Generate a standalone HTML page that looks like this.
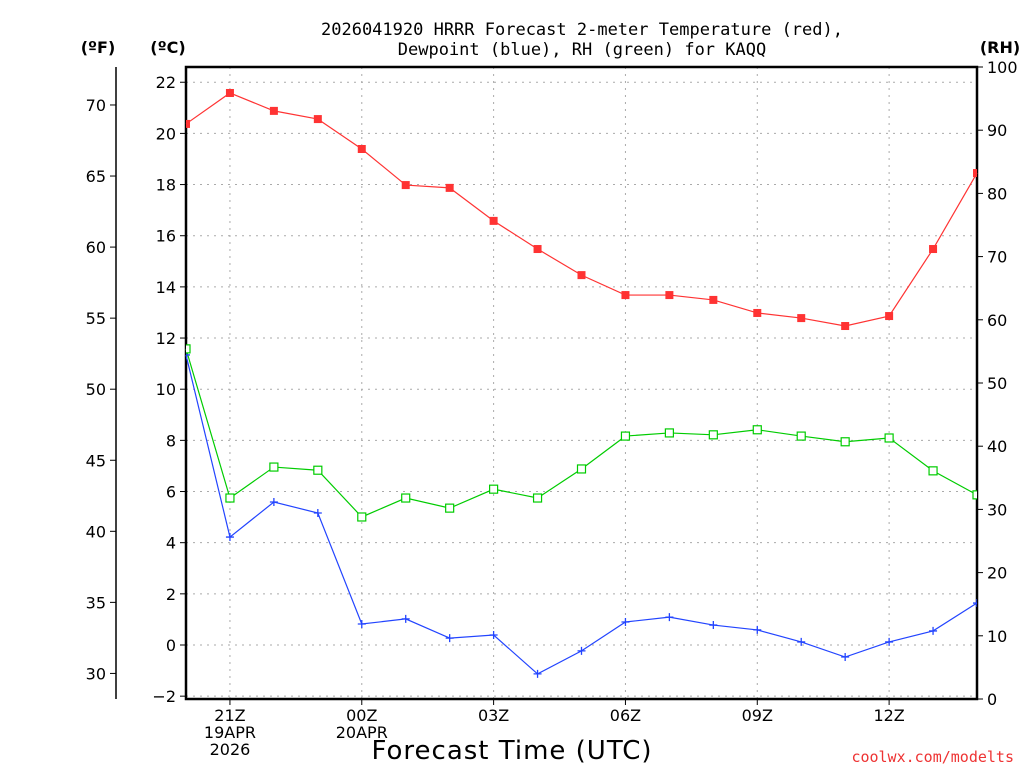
<!DOCTYPE html>
<html><head><meta charset="utf-8"><style>
body{margin:0;background:#fff;width:1024px;height:768px;overflow:hidden}
svg{display:block;font-family:"DejaVu Sans","Liberation Sans",sans-serif}
</style></head><body>
<svg id="chart" width="1024" height="768" viewBox="0 0 1024 768">
<text x="582" y="35" text-anchor="middle" font-size="17" font-family="DejaVu Sans Mono,Liberation Mono,monospace">2026041920 HRRR Forecast 2-meter Temperature (red),</text>
<text x="582" y="55" text-anchor="middle" font-size="17" font-family="DejaVu Sans Mono,Liberation Mono,monospace">Dewpoint (blue), RH (green) for KAQQ</text>
<text x="98" y="53" text-anchor="middle" font-size="16" font-weight="bold">(ºF)</text>
<text x="168" y="53" text-anchor="middle" font-size="16" font-weight="bold">(ºC)</text>
<text x="1000" y="53" text-anchor="middle" font-size="16" font-weight="bold">(RH)</text>
<text x="512" y="759" text-anchor="middle" font-size="26" letter-spacing="1">Forecast Time (UTC)</text>
<text x="1014" y="762" text-anchor="end" font-size="15" fill="#e33" font-family="DejaVu Sans Mono,Liberation Mono,monospace">coolwx.com/modelts</text>
<g id="grid"></g><g id="axes"></g><g id="series"></g>
</svg>
<script>
const hours=[0,1,2,3,4,5,6,7,8,9,10,11,12,13,14,15,16,17,18];
const tempC=[20.37,21.58,20.88,20.56,19.39,17.98,17.87,16.58,15.48,14.46,13.68,13.68,13.49,12.98,12.78,12.47,12.86,15.48,18.45];
const dewC=[11.34,4.22,5.59,5.16,0.82,1.02,0.27,0.39,-1.13,-0.23,0.9,1.09,0.78,0.59,0.12,-0.47,0.12,0.55,1.64];
const rh=[55.4,31.8,36.7,36.2,28.8,31.8,30.2,33.2,31.8,36.4,41.6,42.1,41.8,42.6,41.6,40.7,41.3,36.1,32.3];
const cTicks=[-2,0,2,4,6,8,10,12,14,16,18,20,22];
const fTicks=[30,35,40,45,50,55,60,65,70];
const rhTicks=[0,10,20,30,40,50,60,70,80,90,100];
const xTickHours=[1,4,7,10,13,16];
const xTickLabels=[["21Z","19APR","2026"],["00Z","20APR"],["03Z"],["06Z"],["09Z"],["12Z"]];
const L=186,R=977,T=67,B=699;
const x=h=>L+h*(R-L)/18;
const yC=c=>645-c*25.58;
const yF=f=>yC((f-32)/1.8);
const yR=r=>B-r*(B-T)/100;
const NS="http://www.w3.org/2000/svg";
function mk(tag,par,at){const e=document.createElementNS(NS,tag);for(const k in at)e.setAttribute(k,at[k]);document.getElementById(par).appendChild(e);return e;}
cTicks.forEach(c=>{
 const g=mk('line','grid',{x1:L,x2:R,y1:yC(c),y2:yC(c),stroke:'#aaa','stroke-dasharray':'2,5'});
 
 
 const t=mk('line','axes',{x1:L-6,x2:L,y1:yC(c),y2:yC(c),stroke:'#000'});
 
 
 const tx=mk('text','axes',{x:L-10,y:yC(c)+6,'text-anchor':'end','font-size':'16'});
 tx.textContent=(c<0?'\u2212'+(-c):c);
 
 
});
xTickHours.forEach((h,i)=>{
 const g=mk('line','grid',{x1:x(h),x2:x(h),y1:T,y2:B,stroke:'#aaa','stroke-dasharray':'2,5'});
 
 
 const t=mk('line','axes',{x1:x(h),x2:x(h),y1:B,y2:B+6,stroke:'#000'});
 
 
 xTickLabels[i].forEach((s,j)=>{
  const tx=mk('text','axes',{x:x(h),y:B+22+j*17,'text-anchor':'middle','font-size':'16'});
  tx.textContent=s;
  
  
 });
});
const fa=mk('line','axes',{x1:116,x2:116,y1:67,y2:699,stroke:'#000','stroke-width':1.5});


fTicks.forEach(f=>{
 const t=mk('line','axes',{x1:110,x2:116,y1:yF(f),y2:yF(f),stroke:'#000'});
 
 
 const tx=mk('text','axes',{x:106,y:yF(f)+6,'text-anchor':'end','font-size':'16'});
 tx.textContent=f;
 
 
});
rhTicks.forEach(r=>{
 const t=mk('line','axes',{x1:R,x2:R+6,y1:yR(r),y2:yR(r),stroke:'#000'});
 
 
 const tx=mk('text','axes',{x:R+10,y:yR(r)+6,'font-size':'16'});
 tx.textContent=r;
 
 
});
const fr=mk('rect','axes',{x:L,y:T,width:R-L,height:B-T,fill:'none',stroke:'#000','stroke-width':2.5});


const clip=mk('clipPath','series',{id:'cp'});
const cr=document.createElementNS(NS,'rect');cr.setAttribute('x',L);cr.setAttribute('y',T-10);cr.setAttribute('width',R-L);cr.setAttribute('height',B-T+20);clip.appendChild(cr);
function line(vals,yf,col,name){
 const p=mk('polyline','series',{points:vals.map((v,i)=>x(hours[i])+','+yf(v)).join(' '),fill:'none',stroke:col,'stroke-width':1.2});
 
 
}
line(tempC,yC,'#f33','temperature');
line(dewC,yC,'#2244ff','dewpoint');
line(rh,yR,'#0c0','rh');
tempC.forEach((v,i)=>{
 const m=mk('rect','series',{x:x(hours[i])-4,y:yC(v)-4,width:8,height:8,fill:'#f33','clip-path':'url(#cp)'});
 
 
});
dewC.forEach((v,i)=>{
 const X=x(hours[i]),Y=yC(v);
 const m=mk('path','series',{d:`M${X-4},${Y}H${X+4}M${X},${Y-4}V${Y+4}`,stroke:'#2244ff','stroke-width':1.3,'clip-path':'url(#cp)'});
 
 
});
rh.forEach((v,i)=>{
 const m=mk('rect','series',{x:x(hours[i])-4,y:yR(v)-4,width:8,height:8,fill:'#fff',stroke:'#0c0','stroke-width':1.2,'clip-path':'url(#cp)'});
 
 
});
</script>
</body></html>
